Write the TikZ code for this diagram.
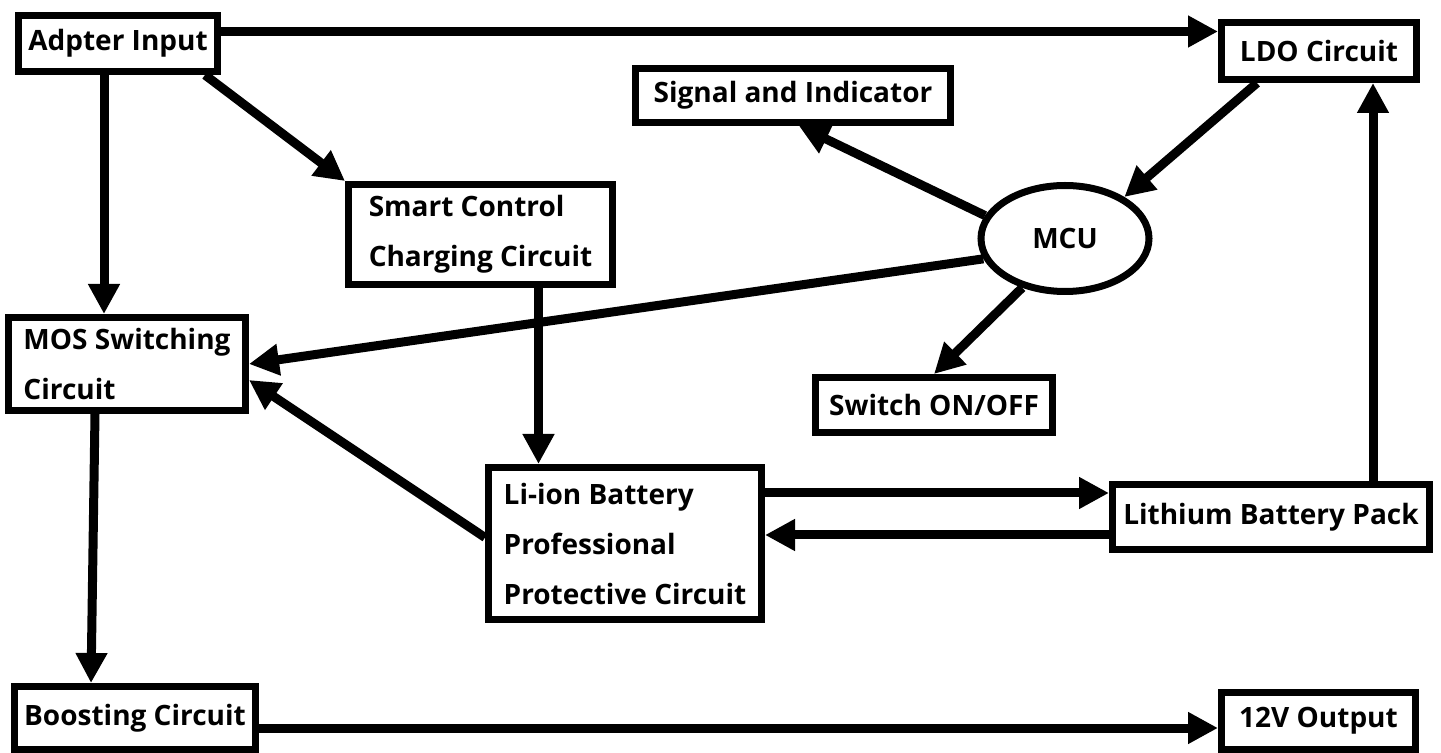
\documentclass[tikz,border=0pt]{standalone}
\usepackage{fontspec}
\setmainfont{Open Sans}
\usepackage{tikz}
\usetikzlibrary{arrows.meta,shapes.geometric}
\tikzset{
  partbox/.style={
    rectangle, draw=black, line width=3.5pt, fill=white,
    inner sep=0pt, align=left,
    font=\fontsize{14}{25}\selectfont\bfseries
  },
  partoval/.style={
    ellipse, draw=black, line width=3.5pt, fill=white, inner sep=0pt,
    minimum width=84pt, minimum height=53pt,
    font=\fontsize{14}{25}\selectfont\bfseries
  },
  partarrow/.style={-{Triangle[length=15pt,width=15pt]}, line width=4.5pt}
}
\begin{document}
\begin{tikzpicture}[x=0.5pt,y=-0.5pt]
\useasboundingbox (0,0) rectangle (1441,753);
\node[partbox, minimum width=99.5pt, minimum height=28pt] (adapter) at (118,43.5) {Adpter Input};
\node[partbox, minimum width=97.5pt, minimum height=28.5pt] (ldo) at (1319,51) {LDO Circuit};
\node[partbox, minimum width=157.5pt, minimum height=27pt] (signal) at (793,95.5) {Signal and Indicator};
\node[partbox, minimum width=132pt, minimum height=50pt] (smart) at (480.5,234.5) {Smart Control\\Charging Circuit};
\node[partoval] (mcu) at (1065,238.5) {MCU};
\node[partbox, minimum width=118.5pt, minimum height=46.5pt] (mos) at (127,364) {MOS Switching\\Circuit};
\node[partbox, minimum width=118.5pt, minimum height=27.5pt] (switch) at (934,405) {Switch ON/OFF};
\node[partbox, minimum width=136.5pt, minimum height=76pt] (liion) at (625,543.5) {Li-ion Battery\\Professional\\Protective Circuit};
\node[partbox, minimum width=158.5pt, minimum height=32.5pt] (lithium) at (1271,517) {Lithium Battery Pack};
\node[partbox, minimum width=120.5pt, minimum height=31.5pt] (boost) at (135,718) {Boosting Circuit};
\node[partbox, minimum width=97pt, minimum height=28.5pt] (out) at (1318.5,721) {12V Output};

\draw[partarrow] ([yshift=6pt]adapter.east) -- ([yshift=6pt]adapter.east -| ldo.west);
\draw[partarrow] ([xshift=-7pt]adapter.south) -- ([xshift=-7pt]adapter.south |- mos.north);
\draw[partarrow] ([xshift=-8pt]adapter.south east) -- (smart.north west);
\draw[partarrow] ([xshift=-31pt]ldo.south) -- (mcu.35);
\draw[partarrow] (mcu.164) -- ([xshift=3pt]signal.south);
\draw[partarrow] (mcu.194) -- (mos.east);
\draw[partarrow] (mcu.229) -- (switch.north);
\draw[partarrow] ([xshift=29pt]smart.south) -- ([xshift=29pt]smart.south |- liion.north);
\draw[partarrow] ([yshift=3pt]liion.west) -- ([yshift=-8pt]mos.east);
\draw[partarrow] ([yshift=12pt]lithium.west -| liion.east) -- ([yshift=12pt]lithium.west);
\draw[partarrow] ([yshift=-9pt]lithium.west) -- ([yshift=-9pt]lithium.west -| liion.east);
\draw[partarrow] ([xshift=27pt]ldo.south |- lithium.north) -- ([xshift=27pt]ldo.south);
\draw[partarrow] ([xshift=-16pt]mos.south) -- ([xshift=-22pt]boost.north);
\draw[partarrow] ([yshift=-5pt]boost.east) -- ([yshift=-5pt]boost.east -| out.west);
\end{tikzpicture}
\end{document}
